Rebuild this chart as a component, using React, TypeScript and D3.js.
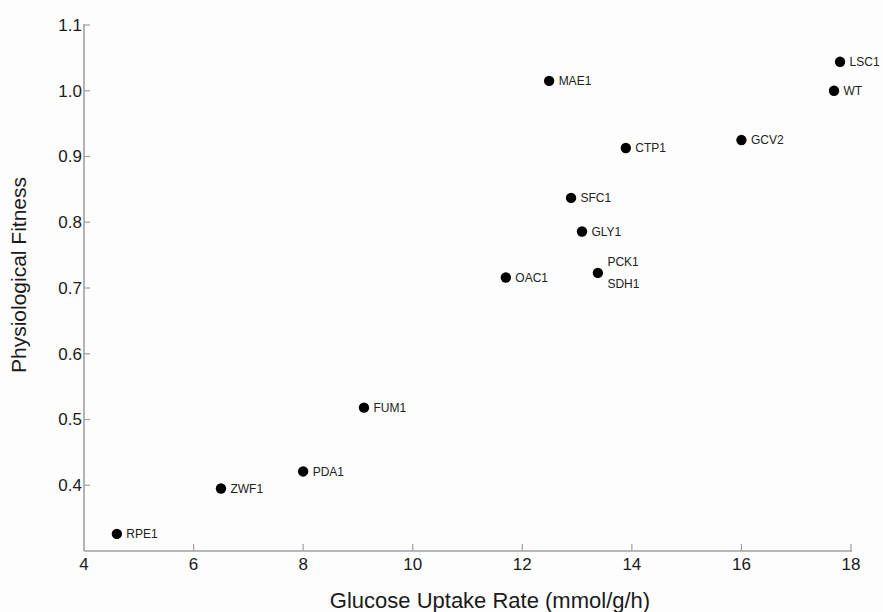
import React from "react";
import * as d3 from "d3";

const genes = ["RPE1", "ZWF1", "PDA1", "FUM1", "OAC1", "PCK1", "SDH1", "GLY1", "SFC1", "CTP1", "MAE1", "GCV2", "WT", "LSC1"];
const glucoseUptake = [4.6, 6.5, 8.0, 9.11, 11.7, 13.38, 13.38, 13.09, 12.89, 13.89, 12.49, 16.0, 17.69, 17.8];
const fitness = [0.326, 0.395, 0.421, 0.518, 0.716, 0.723, 0.723, 0.786, 0.837, 0.913, 1.015, 0.925, 1.0, 1.044];
const labelPlacement = ["right", "right", "right", "right", "right", "above", "below", "right", "right", "right", "right", "right", "right", "right"];
const xTicks = [4, 6, 8, 10, 12, 14, 16, 18];
const yTicks = [0.4, 0.5, 0.6, 0.7, 0.8, 0.9, 1.0, 1.1];

const W = 883;
const H = 612;
const left = 84;
const right = 851;
const top = 25;
const bottom = 551;

export default function App() {
  const x = d3.scaleLinear().domain([4, 18]).range([left, right]);
  const y = d3.scaleLinear().domain([0.3, 1.1]).range([bottom, top]);
  const axisColor = "#a0a0a0";
  const font = "'Liberation Sans', Arial, sans-serif";

  return (
    <svg width={W} height={H} style={{ position: "absolute", left: 0, top: 0, background: "#fdfdfd" }} fontFamily={font}>
      <rect x={0} y={0} width={W} height={H} fill="#fdfdfd" />
      {/* axes */}
      <line x1={left} x2={left} y1={top - 1} y2={bottom} stroke={axisColor} strokeWidth={1.6} />
      <line x1={left} x2={right + 1} y1={bottom} y2={bottom} stroke={axisColor} strokeWidth={1.6} />
      {yTicks.map((t) => (
        <g key={"y" + t}>
          <line x1={left} x2={left + 6} y1={y(t)} y2={y(t)} stroke={axisColor} strokeWidth={1.2} />
          <text x={left - 2} y={y(t)} dy="0.35em" textAnchor="end" fontSize={17} fill="#1a1a1a">
            {d3.format(".1f")(t)}
          </text>
        </g>
      ))}
      {xTicks.map((t) => (
        <g key={"x" + t}>
          {t !== 4 && <line x1={x(t)} x2={x(t)} y1={bottom} y2={bottom - 7} stroke={axisColor} strokeWidth={1.2} />}
          <text x={x(t)} y={bottom + 19} textAnchor="middle" fontSize={17} fill="#1a1a1a">
            {t}
          </text>
        </g>
      ))}
      <text x={490} y={608} textAnchor="middle" fontSize={22} fill="#1a1a1a">
        Glucose Uptake Rate (mmol/g/h)
      </text>
      <text transform={`translate(26, 275) rotate(-90)`} textAnchor="middle" fontSize={21} fill="#1a1a1a">
        Physiological Fitness
      </text>
      {/* points */}
      {genes.map((g, i) => {
        const cx = x(glucoseUptake[i]);
        const cy = y(fitness[i]);
        const p = labelPlacement[i];
        const ly = p === "above" ? cy - 11 : p === "below" ? cy + 11 : cy;
        return (
          <g key={g}>
            {p !== "below" && <circle cx={cx} cy={cy} r={5.2} fill="#000" />}
            <text x={cx + 9.5} y={ly} dy="0.35em" fontSize={12} fill="#222">
              {g}
            </text>
          </g>
        );
      })}
    </svg>
  );
}
